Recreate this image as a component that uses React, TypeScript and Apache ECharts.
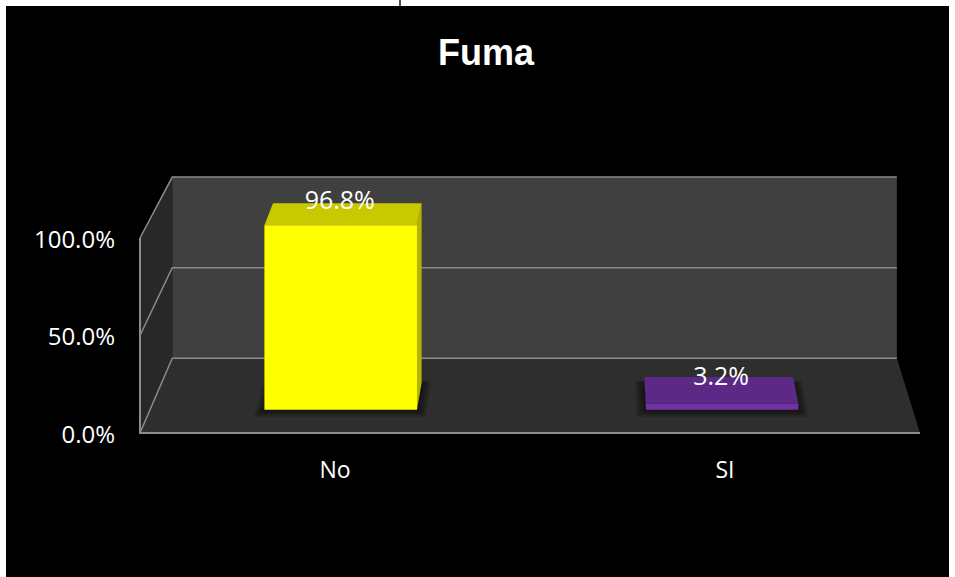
import React, { useEffect, useRef } from "react";
import * as echarts from "echarts";

const title = "Fuma";
const categories = ["No", "SI"];
const values = [0.968, 0.032];
const yTicks = [0, 0.5, 1];

const barPalette = [
  { front: "#ffff00", top: "#c9c900", side: "#b5b500" },
  { front: "#7232a2", top: "#5c2a86", side: "#4a2070" },
];

const pct = (v: number) => (v * 100).toFixed(1) + "%";

// perspective projection of a front-plane point (x, y) pushed back to depth d (0 = front, 1 = back wall)
function makeProj(cs: any) {
  const vx = cs.x + 0.582 * cs.width;
  const vy = cs.y + cs.height - 5.4 * cs.height;
  return (x: number, y: number, d: number) => {
    const s = 1 - 0.071 * d;
    return [vx + s * (x - vx), vy + s * (y - vy)];
  };
}

export default function App() {
  const ref = useRef<HTMLDivElement>(null);
  useEffect(() => {
    if (!ref.current) return;
    const chart = echarts.init(ref.current, null, { renderer: "svg" });
    const gridStroke = "#8c8c8c";
    chart.setOption({
      animation: false,
      backgroundColor: "#000000",
      title: {
        text: title,
        left: 427,
        top: 23,
        textStyle: {
          color: "#ffffff",
          fontSize: 36,
          fontWeight: "bold",
          fontFamily: "Liberation Sans, Arial, sans-serif",
        },
      },
      grid: { left: 134, top: 232, width: 780, height: 195 },
      xAxis: {
        type: "category",
        data: categories,
        axisLine: { show: false },
        axisTick: { show: false },
        splitLine: { show: false },
        axisLabel: {
          color: "#ffffff",
          fontSize: 23,
          fontFamily: "Open Sans, sans-serif",
          margin: 24,
        },
      },
      yAxis: {
        type: "value",
        min: 0,
        max: 1,
        interval: 0.5,
        axisLine: { show: false },
        axisTick: { show: false },
        splitLine: { show: false },
        axisLabel: {
          color: "#ffffff",
          fontSize: 24,
          fontFamily: "Open Sans, sans-serif",
          margin: 25,
          formatter: (v: number) => pct(v),
        },
      },
      series: [
        {
          type: "custom",
          silent: true,
          z: 1,
          data: [[0, 0]],
          renderItem: (params: any, api: any) => {
            const cs = params.coordSys;
            const P = makeProj(cs);
            const x0 = cs.x;
            const x1 = cs.x + cs.width;
            const yb = cs.y + cs.height;
            const yt = cs.y;
            const children: any[] = [];
            children.push({
              type: "polygon",
              shape: { points: [P(x0, yb, 0), P(x1, yb, 0), P(x1, yb, 1), P(x0, yb, 1)] },
              style: { fill: "#2e2e2e" },
            });
            children.push({
              type: "polygon",
              shape: { points: [P(x0, yb, 1), P(x1, yb, 1), P(x1, yt, 1), P(x0, yt, 1)] },
              style: { fill: "#404040" },
            });
            children.push({
              type: "polygon",
              shape: { points: [P(x0, yb, 0), P(x0, yb, 1), P(x0, yt, 1), P(x0, yt, 0)] },
              style: { fill: "#282828" },
            });
            yTicks.forEach((t) => {
              const y = api.coord([0, t])[1];
              children.push({
                type: "polyline",
                shape: { points: [P(x0, y, 0), P(x0, y, 1), P(x1, y, 1)] },
                style: { stroke: gridStroke, lineWidth: 1.5, fill: null },
              });
            });
            children.push({
              type: "polyline",
              shape: { points: [P(x0, yt, 0), P(x0, yb, 0), P(x1, yb, 0)] },
              style: { stroke: gridStroke, lineWidth: 2, fill: null },
            });
            return { type: "group", children };
          },
        },
        {
          type: "custom",
          z: 2,
          data: categories.map((c, i) => [i, values[i]]),
          renderItem: (params: any, api: any) => {
            const cs = params.coordSys;
            const P = makeProj(cs);
            const idx = params.dataIndex;
            const pal = barPalette[idx % barPalette.length];
            const cat = api.value(0);
            const val = api.value(1);
            const cx = api.coord([cat, 0])[0];
            const yBase = api.coord([cat, 0])[1];
            const yTop = api.coord([cat, val])[1];
            const band = api.size([1, 0])[0];
            const w = band * 0.4;
            const xl = cx - w / 2;
            const xr = cx + w / 2;
            const d1 = 0.31;
            const d2 = 0.67;
            const vx = cs.x + 0.582 * cs.width;
            const children: any[] = [];
            // soft shadow on floor, built from layered translucent footprints
            for (let k = 3; k >= 0; k--) {
              const g = 2 + k * 2.5;
              const dd = 0.01 * k;
              children.push({
                type: "polygon",
                shape: {
                  points: [
                    P(xl - g, yBase + 1 + k, d1 - 0.01 - dd),
                    P(xr + g, yBase + 1 + k, d1 - 0.01 - dd),
                    P(xr + g, yBase, d2 + dd),
                    P(xl - g, yBase, d2 + dd),
                  ],
                },
                style: { fill: "rgba(0,0,0,0.16)" },
              });
            }
            const sx = cx < vx ? xr : xl;
            children.push({
              type: "polygon",
              shape: { points: [P(sx, yTop, d1), P(sx, yTop, d2), P(sx, yBase, d2), P(sx, yBase, d1)] },
              style: { fill: pal.side },
            });
            children.push({
              type: "polygon",
              shape: { points: [P(xl, yTop, d1), P(xr, yTop, d1), P(xr, yTop, d2), P(xl, yTop, d2)] },
              style: { fill: pal.top },
            });
            children.push({
              type: "polygon",
              shape: { points: [P(xl, yTop, d1), P(xr, yTop, d1), P(xr, yBase, d1), P(xl, yBase, d1)] },
              style: { fill: pal.front },
            });
            const lp = P(cx, yTop, 0.49);
            children.push({
              type: "text",
              x: P(cx, yTop, d1)[0] - 1,
              y: lp[1] - 3,
              style: {
                text: pct(val),
                fill: "#ffffff",
                fontSize: 25,
                fontFamily: "Open Sans, sans-serif",
                align: "center",
                verticalAlign: "bottom",
              },
            });
            return { type: "group", children };
          },
        },
      ],
    });
    return () => chart.dispose();
  }, []);
  return (
    <>
      <div
        style={{ position: "fixed", left: 399, top: 0, width: 2, height: 6, background: "#555" }}
      />
      <div
        ref={ref}
        style={{ position: "fixed", left: 6, top: 6, width: 943, height: 571, background: "#000" }}
      />
    </>
  );
}
